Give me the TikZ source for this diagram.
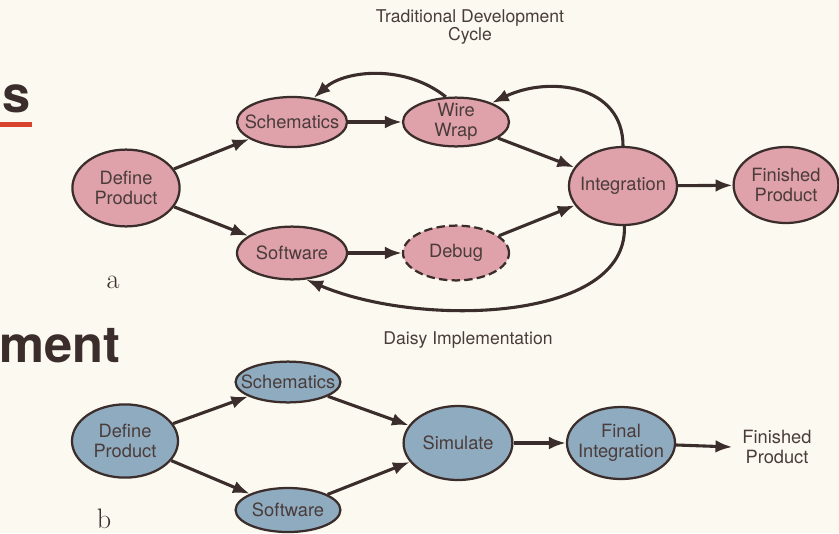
\documentclass[tikz,border=0pt]{standalone}
\usepackage{fontspec}
\setsansfont{TeX Gyre Heros}
\usepackage{tikz}
\usetikzlibrary{arrows.meta,shapes.geometric,positioning}

\definecolor{paper}{HTML}{FCFAF0}
\definecolor{ink}{HTML}{3B2D2B}
\definecolor{txt}{HTML}{4A3C3A}
\definecolor{pinkfill}{HTML}{DFA1AA}
\definecolor{bluefill}{HTML}{8FABC0}
\definecolor{barred}{HTML}{D8432E}

\tikzset{
  bubble/.style={ellipse, draw=ink, line width=1.6pt, text=txt, align=center,
    inner xsep=-20pt, inner ysep=-20pt,
    font=\sffamily\fontsize{13}{14.5}\selectfont},
  pinkb/.style={bubble, fill=pinkfill},
  blueb/.style={bubble, fill=bluefill},
  flow/.style={->, ink, line width=2.2pt},
  heading/.style={text=txt, align=center, font=\sffamily\fontsize{12.5}{13.5}\selectfont},
  partlabel/.style={text=ink, font=\fontsize{20}{20}\selectfont},
}

\begin{document}
\begin{tikzpicture}[x=0.025cm, y=-0.025cm, >={Latex[length=12pt,width=9pt]}]
\fill[paper] (0,0) rectangle (839,533);
\useasboundingbox (0,0) rectangle (839,533);

% cut-off page text on the left
\node[anchor=south east, inner sep=0, text=ink, font=\sffamily\fontsize{36}{36}\selectfont\bfseries] (cut1) at (31,113) {s};
\fill[barred] (0,122) rectangle (32,127);
\node[anchor=south west, inner sep=0, text=ink, font=\sffamily\fontsize{36}{36}\selectfont\bfseries] (cut2) at (-1,363) {ment};

% a: traditional cycle
\node[heading] (title1) at (470,27) {Traditional Development\\Cycle};
\node[pinkb, minimum width=2.68cm, minimum height=1.92cm] (dp) at (126,188) {Define\\Product};
\node[pinkb, minimum width=2.75cm, minimum height=1.25cm] (sch) at (292,122) {Schematics};
\node[pinkb, minimum width=2.65cm, minimum height=1.22cm] (ww) at (456,122) {Wire\\Wrap};
\node[pinkb, minimum width=2.75cm, minimum height=1.32cm] (sw) at (292,253) {Software};
\node[pinkb, dashed, dash pattern=on 6pt off 3pt, minimum width=2.65cm, minimum height=1.37cm] (dbg) at (456,253) {Debug};
\node[pinkb, minimum width=2.7cm, minimum height=1.95cm] (int) at (623,186) {Integration};
\node[pinkb, minimum width=2.62cm, minimum height=1.9cm] (fp) at (786,185) {Finished\\Product};
\node[partlabel] (la) at (113,282) {a};

\draw[flow] (dp) -- (sch);
\draw[flow] (dp) -- (sw);
\draw[flow] (sch) -- (ww);
\draw[flow] (sw) -- (dbg);
\draw[flow] (ww) -- (int);
\draw[flow] (dbg) -- (int);
\draw[flow] (int) -- (fp);
\draw[flow] (ww.112) .. controls (405,64) and (345,70) .. (sch.48);
\draw[flow] (int.north) .. controls (623,84) and (548,76) .. (ww.28);
\draw[flow] (int.272) .. controls (628,322) and (420,328) .. (sw.298);

% b: daisy implementation
\node[heading] (title2) at (468,340) {Daisy Implementation};
\node[blueb, minimum width=2.65cm, minimum height=1.83cm] (dp2) at (125,441) {Define\\Product};
\node[blueb, minimum width=2.62cm, minimum height=1.02cm] (sch2) at (288,382) {Schematics};
\node[blueb, minimum width=2.62cm, minimum height=1.1cm] (sw2) at (288,510) {Software};
\node[blueb, minimum width=2.72cm, minimum height=1.85cm] (sim) at (458,443) {Simulate};
\node[blueb, minimum width=2.7cm, minimum height=1.8cm] (fi) at (621,443) {Final\\Integration};
\node[text=txt, align=center, inner sep=1pt, font=\sffamily\fontsize{13}{14.5}\selectfont] (fp2) at (777,447) {Finished\\Product};
\node[partlabel] (lb) at (104,519) {b};

\draw[flow] (dp2) -- (sch2);
\draw[flow] (dp2) -- (sw2);
\draw[flow] (sch2) -- (sim);
\draw[flow] (sw2) -- (sim);
\draw[flow] (sim) -- (fi);
\draw[flow] (fi) -- ([xshift=-6pt]fp2.west);
\end{tikzpicture}
\end{document}
